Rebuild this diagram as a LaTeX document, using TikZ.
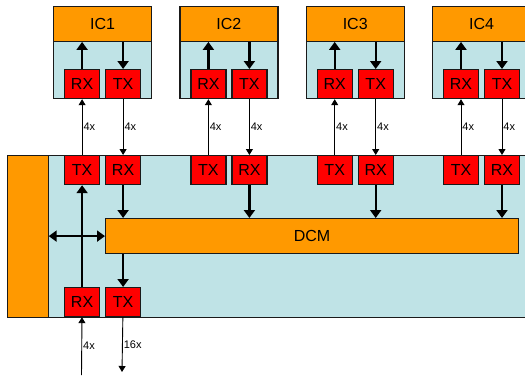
\documentclass[tikz,border=0pt]{standalone}
\usepackage{fontspec}
\setmainfont{Liberation Sans}
\usetikzlibrary{arrows.meta,positioning,calc}
\definecolor{dcmOrange}{HTML}{FF9900}
\definecolor{dcmBlue}{HTML}{BFE3E6}
\definecolor{dcmRed}{HTML}{FF0000}
\definecolor{dcmLine}{HTML}{1A1A1A}

\begin{document}
\begin{tikzpicture}[x=1pt,y=-1pt,
  blk/.style={draw=dcmLine, line width=1.2pt, inner sep=0pt, anchor=north west},
  body/.style={blk, fill=dcmBlue},
  hdr/.style={blk, fill=dcmOrange, font=\fontsize{16}{16}\selectfont},
  port/.style={blk, fill=dcmRed, minimum width=35pt, minimum height=29pt,
               font=\fontsize{16}{16}\selectfont},
  a/.style={-{Triangle[length=8pt,width=11pt]}, line width=2.4pt, draw=black},
  w/.style={-{Triangle[length=6pt,width=7pt]}, line width=0.9pt, draw=black},
  lb/.style={font=\fontsize{11}{11}\selectfont, inner sep=1pt, anchor=west}]
  \path[use as bounding box] (0,0) rectangle (525,375);
  \clip (0,0) rectangle (525,375);
  % main board
  \node[body, minimum width=533pt, minimum height=162pt] (main) at (7,155) {};
  \node[blk, fill=dcmOrange, minimum width=40.5pt, minimum height=162pt] (bus) at (7,155) {};
  \node[hdr, minimum width=413pt, minimum height=35pt] (dcm) at (105,218) {DCM};
  % the four ICs and their links
  \foreach \i/\n in {0/1,1/2,2/3,3/4}{
    \pgfmathsetmacro\xl{53+126.3*\i}
    \node[body, minimum width=98pt, minimum height=92pt] (ic\n) at (\xl,6) {};
    \node[hdr, minimum width=98pt, minimum height=34.7pt] (h\n) at (\xl,6) {IC\n};
    \node[port] (irx\n) at (\xl+11,69) {RX};
    \node[port] (itx\n) at (\xl+52,69) {TX};
    \node[port] (mtx\n) at (\xl+11,155) {TX};
    \node[port] (mrx\n) at (\xl+52,155) {RX};
    \draw[a] (irx\n.north) -- (irx\n.north |- h\n.south);
    \draw[a] (h\n.south -| itx\n.north) -- (itx\n.north);
    \draw[w] (mtx\n) -- (irx\n) node[lb, midway] {4x};
    \draw[w] (itx\n) -- (mrx\n) node[lb, midway] {4x};
    \draw[a] (mrx\n.south) -- (mrx\n.south |- dcm.north);
  }
  % external port
  \node[port] (brx) at (64,287) {RX};
  \node[port] (btx) at (105,287) {TX};
  \draw[a] (brx) -- (mtx1);
  \draw[a] (dcm.south -| btx.north) -- (btx.north);
  \draw[a, {Triangle[length=8pt,width=11pt]}-{Triangle[length=8pt,width=11pt]}]
    (bus.east |- dcm.west) -- (dcm.west);
  \coordinate (inA) at (81.5,375);
  \coordinate (outB) at (122,372);
  \draw[w] (inA) -- (brx) node[lb, midway] {4x};
  \draw[w] (btx) -- (outB) node[lb, midway] {16x};
\end{tikzpicture}
\end{document}
